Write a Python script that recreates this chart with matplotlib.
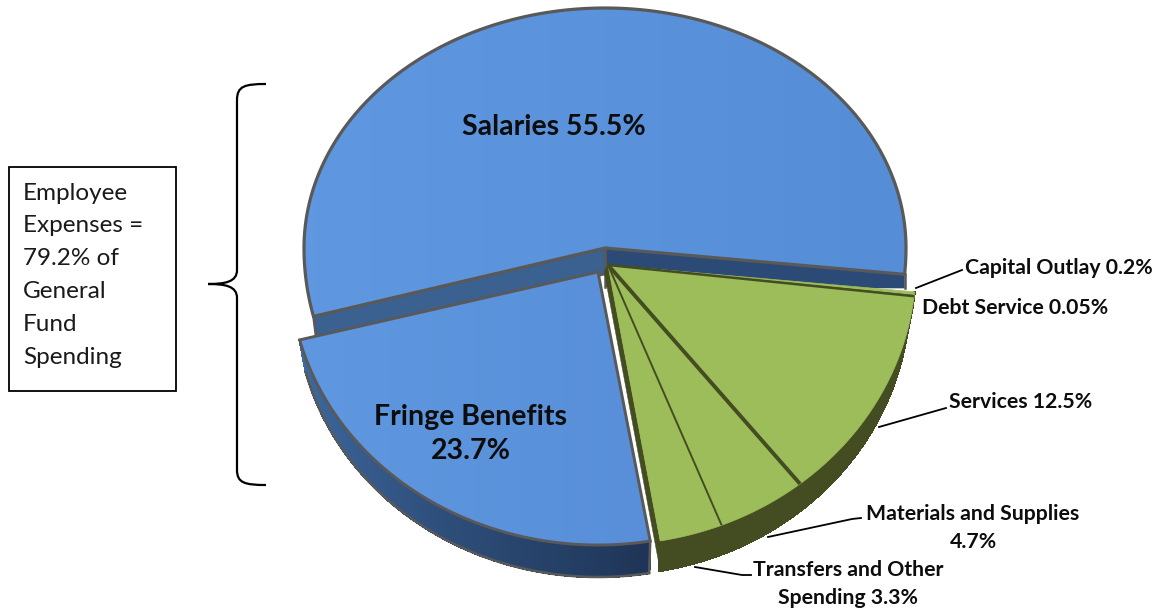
import numpy as np
import matplotlib
matplotlib.use("Agg")
import matplotlib.pyplot as plt
from matplotlib.patches import Polygon, PathPatch, Rectangle
from matplotlib.path import Path
from matplotlib.colors import LinearSegmentedColormap, to_rgb

plt.rcParams['font.family'] = ['Lato', 'DejaVu Sans']

# data
categories = ["Salaries", "Fringe Benefits", "Transfers and Other Spending",
              "Materials and Supplies", "Services", "Debt Service", "Capital Outlay"]
shares = [55.5, 23.7, 3.3, 4.7, 12.5, 0.05, 0.2]
box_lines = ["Employee", "Expenses =", "79.2% of", "General", "Fund", "Spending"]

START_ANGLE = -5.5  # where Salaries begins, going counter clockwise

BLUE_EDGE = "#595959"
GREEN = "#9dbd5b"
OLIVE = "#444d22"

angles = START_ANGLE + np.concatenate([[0], np.cumsum(shares)]) / sum(shares) * 360


def arc(cx, cy, rx, ry_up, ry_down, t):
    # pie is seen in perspective so the near half of the ellipse is taller
    t = np.deg2rad(t)
    s = np.sin(t)
    return cx + rx * np.cos(t), cy - np.where(s > 0, ry_up, ry_down) * s


def wedge(center, a0, a1, rx, ry_up, ry_down):
    t = np.linspace(a0, a1, 200)
    x, y = arc(center[0], center[1], rx, ry_up, ry_down, t)
    return np.vstack([[center], np.column_stack([x, y])])


def gradient_fill(ax, verts, c0, c1, z):
    poly = Polygon(verts, closed=True, fc="none", ec="none", zorder=z)
    ax.add_patch(poly)
    cmap = LinearSegmentedColormap.from_list("g", [c0, c1])
    grad = np.linspace(0, 1, 64).reshape(1, -1)
    x0, y0 = verts.min(axis=0)
    x1, y1 = verts.max(axis=0)
    im = ax.imshow(grad, cmap=cmap, extent=[x0, x1, y1, y0], aspect="auto", zorder=z)
    im.set_clip_path(poly)


def side_wall(ax, center, a0, a1, rx, ry, drop, c0, c1, z):
    # outer rim, built from thin strips so the colour can shift along it
    t = np.linspace(a0, a1, 120)
    xt, yt = arc(center[0], center[1], rx, ry, ry, t)
    xb, yb = arc(center[0], center[1] + drop, rx * 0.98, ry, ry, t)
    c0, c1 = np.array(to_rgb(c0)), np.array(to_rgb(c1))
    for i in range(len(t) - 1):
        col = c0 + (c1 - c0) * i / (len(t) - 2)
        q = [(xt[i], yt[i]), (xt[i + 1], yt[i + 1]), (xb[i + 1], yb[i + 1]), (xb[i], yb[i])]
        ax.add_patch(Polygon(q, closed=True, fc=col, ec=col, lw=1.0, antialiased=False, zorder=z))
    return xb, yb


fig = plt.figure(figsize=(11.56, 6.10), dpi=100)
ax = fig.add_axes([0, 0, 1, 1])

# ---- Salaries, with the two cut faces seen through the gap
sal_c = np.array([605.0, 248.0])
sal = wedge(sal_c, angles[0], angles[1], 301, 240, 275)
right_end, left_end = sal[1], sal[-1]
ax.add_patch(Polygon([sal_c, right_end, right_end + [0, 14], sal_c + [0, 39]],
                     closed=True, fc="#2b4a76", ec="none", zorder=2))
ax.plot([right_end[0], right_end[0]], [right_end[1], right_end[1] + 14], color=BLUE_EDGE, lw=1.8, zorder=2)
ax.plot([sal_c[0], sal_c[0]], [sal_c[1], sal_c[1] + 39], color=BLUE_EDGE, lw=1.8, zorder=2)
ax.add_patch(Polygon([sal_c, left_end, left_end + [3, 24], sal_c + [0, 26]],
                     closed=True, fc="#3b6190", ec=BLUE_EDGE, lw=1.8, zorder=2))
gradient_fill(ax, sal, "#5f98e0", "#558ed6", 3)
ax.add_patch(Polygon(sal, closed=True, fc="none", ec=BLUE_EDGE, lw=2.3, zorder=4))

# ---- Fringe Benefits, pulled out of the pie
fr_c = np.array([598.0, 272.0])
fr = wedge(fr_c, angles[1], angles[2], 308, 273, 273)
xb, yb = side_wall(ax, fr_c, angles[1], angles[2], 308, 273, 32, "#3f6ba3", "#1f3557", 5)
ax.plot(xb, yb, color=BLUE_EDGE, lw=1.8, zorder=6, solid_capstyle="round")
ax.plot([fr[-1][0], xb[-1]], [fr[-1][1], yb[-1]], color=BLUE_EDGE, lw=1.8, zorder=6)
gradient_fill(ax, fr, "#5f98e0", "#588fd8", 7)
ax.add_patch(Polygon(fr, closed=True, fc="none", ec=BLUE_EDGE, lw=2.1, zorder=8))

# ---- Green slices are one group pulled out together
gr_c = np.array([608.0, 265.0])
side_wall(ax, gr_c, angles[2], angles[-1], 308, 280, 30, OLIVE, OLIVE, 9)
corner = arc(gr_c[0], gr_c[1], 308, 280, 280, angles[2])
corner = np.array([float(corner[0]), float(corner[1])])
ax.add_patch(Polygon([gr_c, gr_c + [-4, 6], corner + [0, 30], corner],
                     closed=True, fc=OLIVE, ec=OLIVE, lw=0.3, zorder=9))
for a0, a1 in zip(angles[2:-1], angles[3:]):
    ax.add_patch(Polygon(wedge(gr_c, a0, a1, 308, 280, 280), closed=True,
                         fc=GREEN, ec=GREEN, lw=0.5, zorder=10))
# dividers between the green slices
for a, w in zip(angles[3:-1], [1.4, 2.8, 1.8, 0.4]):
    ex, ey = arc(gr_c[0], gr_c[1], 308, 280, 280, a)
    ax.plot([gr_c[0], ex], [gr_c[1], ey], color=OLIVE, lw=w, zorder=11,
            solid_capstyle="butt")

# ---- labels
ax.text(554, 127, "Salaries 55.5%", fontsize=20.5, fontweight="bold", ha="center", va="center", color="#0d0d0d", zorder=20)
ax.text(471, 434, "Fringe Benefits\n23.7%", fontsize=20.5, fontweight="bold", ha="center", va="center",
        color="#0d0d0d", linespacing=1.42, zorder=20)
small = dict(fontsize=15.3, fontweight="bold", color="#0d0d0d", va="center", zorder=20)
ax.text(965, 268.5, "Capital Outlay 0.2%", ha="left", **small)
ax.text(922, 307.5, "Debt Service 0.05%", ha="left", **small)
ax.text(949, 402.5, "Services 12.5%", ha="left", **small)
ax.text(973, 528, "Materials and Supplies\n4.7%", ha="center", linespacing=1.45, **small)
ax.text(848, 584, "Transfers and Other\nSpending 3.3%", ha="center", linespacing=1.45, **small)

# leader lines
leaders = [([916, 962], [288, 270]),
           ([879, 946], [427, 408]),
           ([768, 852, 861], [537, 519, 518]),
           ([695, 742, 751], [567, 575, 575])]
for lx, ly in leaders:
    ax.plot(lx, ly, color="black", lw=1.3, zorder=12)

# ---- text box and brace on the left
ax.add_patch(Rectangle((8.5, 166.5), 167.5, 224, fc="white", ec="black", lw=1.3, zorder=2))
for i, line in enumerate(box_lines):
    ax.text(23, 193 + i * 32.8, line, fontsize=17.5, color="#1a1a1a", ha="left", va="center", zorder=3)

brace = [(266, 84), (245, 84), (237, 86), (237, 100),
         (237, 270), (237, 282), (225, 284), (208, 284),
         (225, 284), (237, 286), (237, 298),
         (237, 470), (237, 483), (245, 485), (266, 485)]
codes = [Path.MOVETO] + [Path.CURVE4] * 2 + [Path.CURVE4, Path.LINETO] + [Path.CURVE4] * 3 \
        + [Path.CURVE4] * 3 + [Path.LINETO] + [Path.CURVE4] * 3
ax.add_patch(PathPatch(Path(brace, codes), fc="none", ec="black", lw=1.6, zorder=2))

ax.set_xlim(0, 1156)
ax.set_ylim(610, 0)
ax.axis("off")

fig.savefig("out.png", dpi=100, facecolor="white")
